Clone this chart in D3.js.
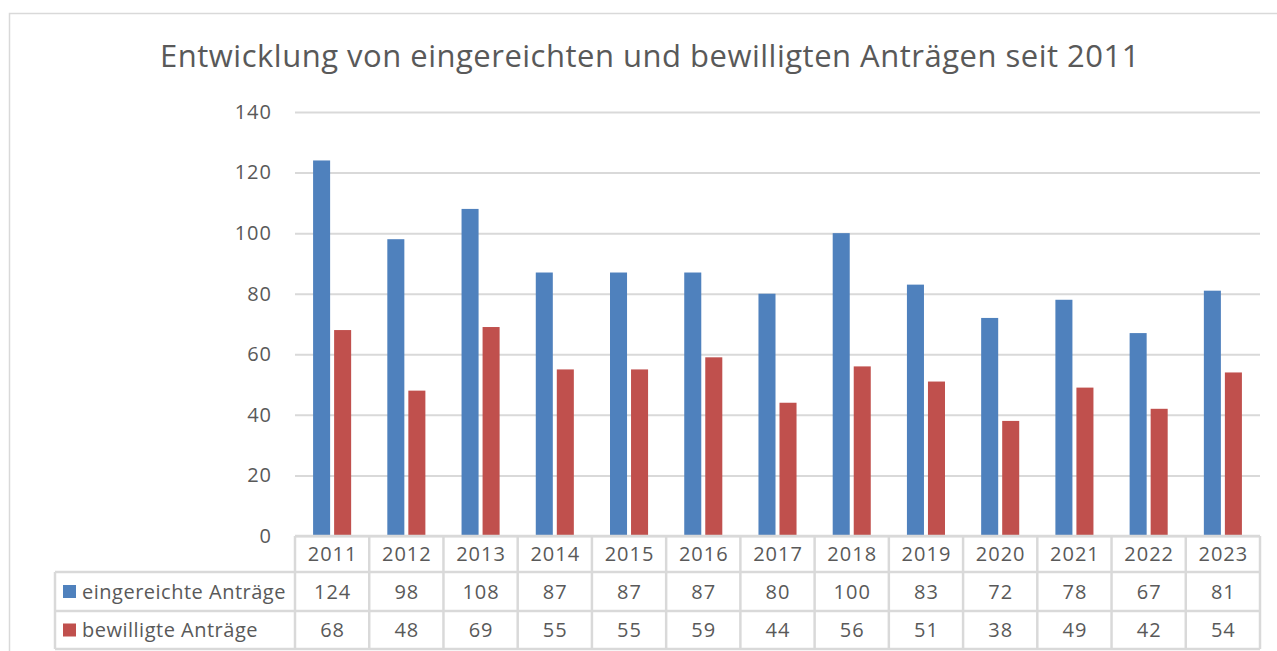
<!DOCTYPE html>
<html><head><meta charset="utf-8">
<script src="https://cdn.jsdelivr.net/npm/d3@7"></script>
<style>
html,body{margin:0;padding:0;background:#fff;}
svg{display:block;font-family:"Open Sans","Noto Sans",sans-serif;}
</style></head>
<body>
<svg id="c" width="1277" height="651"></svg>
<script>
const title = "Entwicklung von eingereichten und bewilligten Anträgen seit 2011";
const years = ["2011","2012","2013","2014","2015","2016","2017","2018","2019","2020","2021","2022","2023"];
const seriesNames = ["eingereichte Anträge","bewilligte Anträge"];
const eingereicht = [124,98,108,87,87,87,80,100,83,72,78,67,81];
const bewilligt = [68,48,69,55,55,59,44,56,51,38,49,42,54];
const yTicks = [0,20,40,60,80,100,120,140];
const colors = ["#4F81BD","#C0504D"];
const seriesValues = [eingereicht, bewilligt];

const svg = d3.select("#c");
const textColor = "#595959";
const gridColor = "#d9d9d9";

// outer border
svg.append("rect").attr("x",9.5).attr("y",13.5).attr("width",1300).attr("height",700)
  .attr("fill","none").attr("stroke",gridColor).attr("stroke-width",1.5);

const plotL = 295, plotR = 1260, plotT = 112, plotB = 536;
const x = d3.scaleBand().domain(years).range([plotL, plotR]);
const y = d3.scaleLinear().domain([0,140]).range([plotB, plotT]);
const xi = d3.scaleBand().domain(seriesNames).range([0, x.bandwidth()]).paddingInner(0.19).paddingOuter(0.86);

// title
svg.append("text").attr("x", 650).attr("y", 67).attr("text-anchor","middle")
  .attr("fill", textColor).attr("font-size", 31).attr("letter-spacing", 0.5).text(title);

// gridlines + y labels
const yAxis = d3.axisLeft(y).tickValues(yTicks).tickSize(-(plotR - plotL)).tickPadding(23).tickFormat(d3.format("d"));
const gy = svg.append("g").attr("transform",`translate(${plotL},0)`).call(yAxis);
gy.select(".domain").remove();
gy.selectAll(".tick line").attr("stroke", gridColor).attr("stroke-width",2);
gy.selectAll(".tick text").attr("fill", textColor).attr("font-size",20).attr("letter-spacing",1)
  .attr("font-family","'Open Sans','Noto Sans',sans-serif");

// bars
seriesNames.forEach((s, si) => {
  svg.append("g").selectAll("rect").data(years).join("rect")
    .attr("x", d => x(d) + xi(s))
    .attr("width", xi.bandwidth())
    .attr("y", (d,i) => y(seriesValues[si][i]))
    .attr("height", (d,i) => plotB - y(seriesValues[si][i]))
    .attr("fill", colors[si]);
});

// data table
const rowH = [36, 39, 38];
const rowTop = [plotB, plotB + rowH[0], plotB + rowH[0] + rowH[1]];
const tableBottom = rowTop[2] + rowH[2];
const legendL = 55;
const tg = svg.append("g");
const ls = {stroke: gridColor, "stroke-width": 2.5};
function line(x1,y1,x2,y2){ const l = tg.append("line").attr("x1",x1).attr("y1",y1).attr("x2",x2).attr("y2",y2); Object.entries(ls).forEach(([k,v])=>l.attr(k,v)); }
line(plotL, plotB, plotR, plotB);
line(legendL, rowTop[1], plotR, rowTop[1]);
line(legendL, rowTop[2], plotR, rowTop[2]);
line(legendL, tableBottom, plotR, tableBottom);
line(legendL, rowTop[1], legendL, tableBottom);
years.forEach(yr => line(x(yr), plotB, x(yr), tableBottom));
line(plotR, plotB, plotR, tableBottom);

tg.selectAll("text.yr").data(years).join("text").attr("class","yr")
  .attr("x", d => x(d) + x.bandwidth()/2 + 0.5).attr("y", rowTop[0] + rowH[0]/2 + 7)
  .attr("text-anchor","middle").attr("fill",textColor).attr("font-size",20).attr("letter-spacing",1).text(d => d);

seriesNames.forEach((s, si) => {
  const top = rowTop[si+1], h = rowH[si+1];
  tg.append("rect").attr("x", 63).attr("y", top + h/2 - 6.5).attr("width", 13).attr("height", 13).attr("fill", colors[si]);
  tg.append("text").attr("x", 82).attr("y", top + h/2 + 7).attr("fill", textColor).attr("font-size",20).attr("letter-spacing",0.5).text(s);
  tg.selectAll(null).data(years).join("text")
    .attr("x", d => x(d) + x.bandwidth()/2 + 0.5).attr("y", top + h/2 + 7)
    .attr("text-anchor","middle").attr("fill",textColor).attr("font-size",20).attr("letter-spacing",1)
    .text((d,i) => seriesValues[si][i]);
});
</script>
</body></html>
